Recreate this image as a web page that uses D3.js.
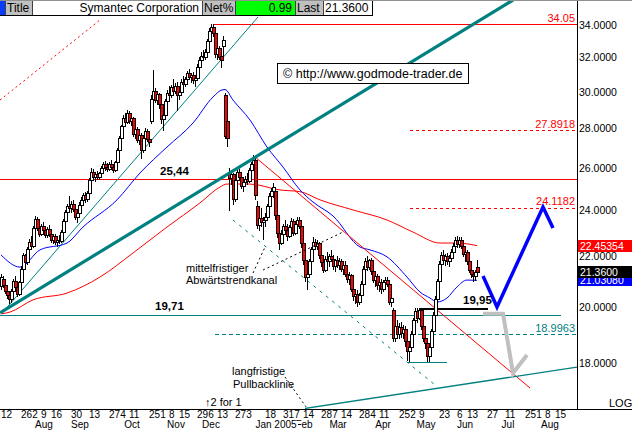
<!DOCTYPE html>
<html><head><meta charset="utf-8">
<script src="https://cdnjs.cloudflare.com/ajax/libs/d3/7.8.5/d3.min.js"></script>
<style>
html,body{margin:0;padding:0;background:#fff;overflow:hidden}
svg{display:block}
text{font-family:"Liberation Sans",Arial,Helvetica,sans-serif}
</style></head><body>
<svg id="chart" width="632" height="431"></svg>
<script>
// ---- daily OHLC (trading-day index 0 = 12 Jul 2004) ----
const open=[20.80,21.10,20.85,20.60,20.45,20.30,20.60,21.00,20.75,20.50,
20.95,21.50,22.05,21.75,22.30,22.60,22.45,23.20,23.60,23.20,
22.95,23.30,23.10,22.90,23.15,22.95,22.70,22.85,22.60,22.70,
22.65,23.05,23.50,23.90,24.20,24.10,24.30,24.05,23.70,23.85,
24.25,24.45,24.70,24.50,24.80,25.40,25.80,25.55,25.70,25.55,
25.75,26.00,26.20,26.05,25.95,26.20,26.05,25.90,26.30,26.90,
27.50,28.10,28.55,28.35,28.80,28.40,28.55,27.70,27.95,27.40,
27.65,26.90,27.50,27.85,27.45,28.40,29.60,30.05,29.55,29.85,
29.30,28.50,28.70,29.50,29.95,29.80,30.25,30.05,30.35,29.80,
30.00,30.55,30.45,30.75,31.05,30.85,30.95,30.65,30.80,31.45,
31.85,32.10,32.00,32.35,33.00,33.60,33.90,33.50,32.20,32.60,32.10,32.70,
29.80,28.40,25.80,25.50,25.70,24.50,25.40,25.80,
25.55,25.10,25.30,25.45,25.35,25.90,26.20,26.40,24.20,23.35,
23.65,23.45,23.55,23.70,24.20,24.65,24.90,24.90,23.80,23.00,
22.55,22.95,23.30,23.10,22.85,23.25,23.50,23.00,23.40,23.55,
23.30,22.55,21.85,21.15,21.30,21.80,22.30,22.60,22.45,22.55,
22.05,21.75,21.45,21.90,21.80,22.00,21.90,21.60,21.85,21.65,
21.80,21.50,21.65,21.30,21.10,21.25,20.70,20.40,20.50,20.20,
20.45,20.90,21.50,21.80,21.55,21.85,21.40,21.05,21.20,20.85,
20.95,20.70,20.95,21.05,20.90,20.20,19.90,18.85,19.30,19.00,
19.25,19.05,19.20,18.75,18.40,18.55,19.00,19.50,19.85,19.60,
19.90,19.30,18.85,18.70,18.25,18.55,19.10,19.70,20.30,21.00,
21.70,22.05,21.85,22.00,21.80,21.95,22.20,22.45,22.70,22.50,
22.70,22.45,22.10,22.20,21.80,21.45,21.30,21.20,21.55];
const high=[21.30,21.20,20.95,20.75,20.60,20.70,21.10,21.20,20.90,21.00,
21.60,22.15,22.10,22.40,22.75,22.85,23.30,23.75,23.70,23.45,
23.40,23.45,23.30,23.25,23.35,23.10,22.95,22.95,22.80,22.90,
23.10,23.60,24.00,24.30,24.65,24.40,24.45,24.15,23.95,24.35,
24.60,24.80,24.85,24.90,25.50,26.00,25.95,25.80,25.85,25.80,
26.10,26.30,26.35,26.25,26.30,26.40,26.20,26.35,27.00,27.60,
28.20,28.70,28.80,29.00,28.95,28.70,28.60,28.10,28.05,27.80,
27.75,27.60,28.00,27.95,27.70,29.80,31.25,30.20,30.00,29.95,
29.45,28.90,29.60,30.10,30.30,30.40,30.70,30.50,30.55,30.20,
30.70,30.90,30.85,31.20,31.30,31.10,31.15,30.90,31.60,32.00,
32.30,32.45,32.50,33.10,33.80,34.05,34.05,33.70,32.80,32.70,32.30,33.30,
29.90,28.50,26.00,25.90,25.75,25.60,25.90,25.95,
25.70,25.40,25.60,25.75,26.00,26.30,26.65,26.50,24.40,23.80,
24.10,23.70,23.85,24.30,24.80,25.00,25.25,25.00,23.95,23.20,
23.10,23.40,23.55,23.40,23.35,23.65,23.60,23.45,23.70,23.70,
23.35,22.60,21.95,21.40,21.90,22.40,22.80,22.75,22.70,22.60,
22.20,21.90,22.00,22.20,22.10,22.25,22.05,21.90,22.00,21.95,
21.90,21.75,21.80,21.45,21.35,21.30,20.85,20.60,20.65,20.55,
21.00,21.60,21.95,22.00,21.90,21.95,21.55,21.30,21.30,21.10,
21.10,21.05,21.15,21.15,20.95,20.45,19.95,19.40,19.50,19.40,
19.45,19.35,19.30,18.90,18.70,19.10,19.60,19.95,19.95,19.95,
19.95,19.40,19.10,18.80,18.65,19.20,19.80,20.40,21.10,21.80,
22.20,22.25,22.10,22.15,22.05,22.30,22.55,22.80,22.85,22.80,
22.80,22.60,22.30,22.25,21.90,21.60,21.45,21.45,21.85];
const low=[20.70,20.75,20.55,20.35,20.15,20.20,20.50,20.65,20.40,20.45,
20.90,21.40,21.65,21.70,22.10,22.30,22.40,23.10,23.10,22.85,
22.90,23.00,22.80,22.80,22.85,22.60,22.55,22.50,22.45,22.55,
22.60,23.00,23.40,23.80,24.00,23.90,23.95,23.60,23.45,23.80,
24.10,24.30,24.35,24.40,24.75,25.30,25.40,25.35,25.45,25.45,
25.65,25.85,25.90,25.85,25.90,25.95,25.80,25.85,26.25,26.80,
27.40,28.00,28.20,28.30,28.30,28.20,27.60,27.50,27.30,27.20,
26.50,26.80,27.40,27.35,27.10,28.30,29.40,29.40,29.30,29.10,
28.30,27.90,28.60,29.40,29.60,29.70,29.90,29.90,29.00,29.60,
29.90,30.30,30.30,30.60,30.70,30.55,30.50,30.30,30.75,31.30,
31.70,31.85,31.90,32.30,32.90,33.40,33.30,32.00,31.90,31.90,31.40,32.10,
27.50,27.10,24.00,25.20,24.30,24.40,25.30,25.40,
25.00,24.90,25.10,25.20,25.30,25.70,26.00,24.50,23.20,23.10,
23.30,22.75,23.30,23.60,24.10,24.40,24.60,23.60,22.80,22.30,
22.50,22.85,23.00,22.70,22.80,23.15,22.90,22.95,23.20,23.20,
22.40,21.70,21.00,20.70,21.20,21.70,22.10,22.30,22.30,21.95,
21.60,21.35,21.40,21.70,21.60,21.80,21.50,21.40,21.55,21.50,
21.40,21.30,21.20,20.95,20.90,20.60,20.25,20.15,20.05,20.10,
20.40,20.85,21.40,21.45,21.50,21.30,20.95,20.80,20.70,20.60,
20.55,20.60,20.75,20.80,20.10,20.05,18.75,18.75,18.90,18.85,
18.90,18.85,18.60,18.10,18.05,18.45,18.95,19.30,19.45,19.55,
19.20,18.75,18.50,18.05,18.05,18.50,19.00,19.60,20.20,20.90,
21.60,21.75,21.65,21.70,21.60,21.85,22.10,22.35,22.40,22.40,
22.35,22.00,21.80,21.70,21.35,21.15,21.00,21.05,21.30];
const close=[21.15,20.85,20.60,20.45,20.30,20.60,21.00,20.75,20.50,20.95,
21.50,22.05,21.75,22.30,22.60,22.45,23.20,23.60,23.20,22.95,
23.30,23.10,22.90,23.15,22.95,22.70,22.85,22.60,22.70,22.65,
23.05,23.50,23.90,24.20,24.10,24.30,24.05,23.70,23.85,24.25,
24.45,24.70,24.50,24.80,25.40,25.80,25.55,25.70,25.55,25.75,
26.00,26.20,26.05,25.95,26.20,26.05,25.90,26.30,26.90,27.50,
28.10,28.55,28.35,28.80,28.40,28.55,27.70,27.95,27.40,27.65,
26.90,27.50,27.85,27.45,27.30,29.60,30.05,29.55,29.85,29.30,
28.50,28.70,29.50,29.95,29.80,30.25,30.05,30.35,29.80,30.00,
30.55,30.45,30.75,31.05,30.85,30.95,30.65,30.80,31.45,31.85,
32.10,32.00,32.35,33.00,33.60,33.90,33.50,32.20,32.60,32.00,31.85,33.05,
27.60,27.50,25.50,25.70,24.50,25.40,25.80,25.55,
25.10,25.30,25.45,25.35,25.90,26.20,26.40,24.70,23.35,23.65,
23.45,23.55,23.70,24.20,24.65,24.90,25.05,23.80,23.00,22.55,
22.95,23.30,23.10,22.85,23.25,23.50,23.00,23.40,23.55,23.30,
22.55,21.85,21.15,21.30,21.80,22.30,22.60,22.45,22.55,22.05,
21.75,21.45,21.90,21.80,22.00,21.90,21.60,21.85,21.65,21.80,
21.50,21.65,21.30,21.10,21.25,20.70,20.40,20.50,20.20,20.45,
20.90,21.50,21.80,21.55,21.85,21.40,21.05,21.20,20.85,20.95,
20.70,20.95,21.05,20.90,20.20,20.35,18.85,19.30,19.00,19.25,
19.05,19.20,18.75,18.40,18.55,19.00,19.50,19.85,19.60,19.90,
19.30,18.85,18.70,18.25,18.55,19.10,19.70,20.30,21.00,21.70,
22.05,21.85,22.00,21.80,21.95,22.20,22.45,22.70,22.50,22.70,
22.45,22.10,22.20,21.80,21.45,21.30,21.20,21.35,21.36];

// moving averages: [day index, price]
const blueMA=[[0,22.06],[9.5,21.56],[19.5,22.27],[33,22.56],[41,23.25],[58,24.47],[69.5,25.74],[83,27.03],[96,28.28],[106,29.70],[110.5,30.10],[112,30.12],[116,29.53],[124.5,28.44],[133,27.03],[141,26.03],[149.5,24.93],[156,24.37],[166,23.74],[179.5,22.39],[184.5,22.27],[193,21.98],[203,21.16],[209.5,20.57],[214.5,20.34],[218,20.19],[223,20.34],[228,20.77],[233,21.04],[238,21.03]];
const redMA=[[0,19.74],[4.5,19.81],[16,20.27],[33,20.53],[49.5,21.16],[66,22.14],[83,23.25],[99.5,24.33],[109.5,25.07],[113,25.21],[124.5,25.21],[139.5,24.93],[149.5,24.85],[159.5,24.47],[176,24.01],[193,23.56],[206,23.03],[219.5,22.56],[228,22.56],[238,22.45]];

// trend lines: [day index, price]
const thickTrend=[[-0.5,19.78],[256,35.65]];
const thinTrend=[[1,19.81],[128.5,34.53]];
const upperChannel=[[-0.5,29.53],[49.5,34.34]];
const downTrend=[[127,26.53],[264.5,17.17]];
const lowerChannel=[[116,23.56],[217,17.27]];
const pullbackLine=[[152,16.52],[288,17.86]];
const blueProjection=[[241,21.20],[248,20.0],[271,24.14],[276,23.21]];
const greyProjection=[[241,19.75],[251,19.75],[256,17.66],[263,18.27]];

// horizontal levels
const levelPrices=[34.05,25.44,19.71,18.9963,27.8918,24.1182,19.95,18.03];
const levelFrom=[106,-0.5,-0.5,107,204.5,204.5,209.5,203.5];
const levelTo=[288,288,280,288,288,288,243.5,223];
const levelLabels=["34.05","","","18.9963","27.8918","24.1182","",""];

// axis ticks
const yTicks=[18,20,22,24,26,28,30,32,34];
const xTickIdx=[0,10,15,20,25,35,44,54,59,64,74,79,84,89,98,103,108,117,122,132,141,146,151,160,165,170,179,184,189,199,204,209,219,228,233,243,252,262,267,272,277];
const xTickLab=["12","26","2","9","16","30","13","27","4","11","25","1","8","15","29","6","13","27","3","18","31","7","14","28","7","14","28","4","11","25","2","9","23","6","13","27","11","25","1","8","15"];
const monthLab=["Aug","Sep","Oct","Nov","Dec","Feb","Jan 2005","Mar","Apr","May","Jun","Jul","Aug"];
const monthIdx=[21.5,39.5,65.5,87.5,105,151.5,137.5,168.5,191,212.5,232,253.5,274.5];

// last values
const lastMA200=22.45354, lastPrice=21.36, lastMA50=21.03080;

// ---------------------------------------------------------
const svg=d3.select("#chart");
const RED="#ff0000",TEAL="#008080",BLUE="#0000ff";
const x=d3.scaleLinear().domain([0,288]).range([1,577]);
const y=d3.scaleLog().domain([16.504,34.53]).range([409,17]);

svg.append("defs").append("clipPath").attr("id","plotClip")
  .append("rect").attr("x",0).attr("y",17).attr("width",577).attr("height",392);

const line=d3.line().x(d=>x(d[0])).y(d=>y(d[1]));
const smooth=d3.line().x(d=>x(d[0])).y(d=>y(d[1])).curve(d3.curveMonotoneX);
const P=svg.append("g").attr("clip-path","url(#plotClip)");

function path(g,data,gen,color,w,dash){
  const p=g.append("path").attr("d",gen(data)).attr("fill","none").style("stroke",color).attr("stroke-width",w);
  if(dash) p.attr("stroke-dasharray",dash);
  return p;
}

// horizontal levels: solid ones as filled 1px bars, dashed as lines
const levelStyle=[
  {c:RED,w:1,d:null},{c:RED,w:1,d:null},{c:TEAL,w:1,d:null},{c:TEAL,w:1,d:"4,3"},
  {c:RED,w:1,d:"3,3"},{c:RED,w:1,d:"3,3"},{c:"#000000",w:2,d:null},{c:TEAL,w:1,d:null}];
levelPrices.forEach((p,i)=>{
  const yy=Math.round(y(p));
  const s=levelStyle[i];
  if(s.d){
    P.append("line").attr("x1",x(levelFrom[i])).attr("x2",x(levelTo[i])).attr("y1",yy+0.5).attr("y2",yy+0.5)
      .style("stroke",s.c).attr("stroke-width",1).attr("stroke-dasharray",s.d);
  } else {
    P.append("rect").attr("x",x(levelFrom[i])).attr("width",x(levelTo[i])-x(levelFrom[i]))
      .attr("y",yy).attr("height",s.w).style("fill",s.c).attr("shape-rendering","crispEdges");
  }
});

// trend lines and MAs (beneath candles)
path(P,upperChannel,line,RED,1,"2,3");
path(P,thinTrend,line,TEAL,1);
path(P,redMA,smooth,RED,1);
path(P,blueMA,smooth,BLUE,1);
path(P,downTrend,line,RED,1);
path(P,lowerChannel,line,TEAL,1,"3,5");
path(P,pullbackLine,line,TEAL,1.3);
path(svg,thickTrend,line,TEAL,3.2);

// candles
const n=Math.min(open.length,high.length,low.length,close.length);
const C=P.append("g");
for(let i=0;i<n;i++){
  const k=Math.round(x(i));
  C.append("line").attr("x1",k+0.5).attr("x2",k+0.5)
    .attr("y1",Math.round(y(high[i]))).attr("y2",Math.round(y(low[i]))+1)
    .style("stroke","#000").attr("stroke-width",1);
  const top=Math.round(y(Math.max(open[i],close[i])))+0.5;
  const bot=Math.round(y(Math.min(open[i],close[i])))+0.5;
  C.append("rect").attr("x",k-0.5).attr("y",top).attr("width",3).attr("height",Math.max(1,bot-top))
    .style("fill",close[i]<open[i]?RED:"#fff").style("stroke","#000").attr("stroke-width",1);
}

// projections
path(svg,greyProjection,line,"#c0c0c0",4).attr("stroke-linejoin","miter");
path(svg,blueProjection,line,BLUE,3.5).attr("stroke-linejoin","miter");

// pointer lines for annotations
const pointer1=[[126,21.32],[132,22.39]];
const pointer2=[[131,21.44],[171,23.03]];
const pointer3=[[142,17.53],[152.5,16.57]];
[pointer1,pointer2,pointer3].forEach(p=>path(svg,p,line,"#000",1,"2,3"));

// level labels
levelPrices.forEach((p,i)=>{
  if(!levelLabels[i]) return;
  svg.append("text").attr("x",575).attr("y",y(p)-2.5).attr("text-anchor","end")
    .attr("font-size",11).style("fill",levelStyle[i].c).text(levelLabels[i]);
});

// bold value annotations
const bold=[["25,44",79.5,25.44],["19,71",77,19.71],["19,95",231,19.95]];
bold.forEach(b=>svg.append("text").attr("x",x(b[1])).attr("y",y(b[2])-4.5)
  .attr("font-size",11.5).attr("font-weight","bold").style("fill","#000").text(b[0]));

// text notes
const notes=[["mittelfristiger",92.5,21.36],["Abwärtstrendkanal",92.5,20.89],
  ["langfristige",115.5,17.60],["Pullbacklinie",116,17.17],["\u21912 for 1",102,16.60]];
notes.forEach(t=>svg.append("text").attr("x",x(t[1])).attr("y",y(t[2]))
  .attr("font-size",11).style("fill","#000").text(t[0]));

// website box
const wt=svg.append("text").attr("x",x(141)).attr("y",y(30.78)).attr("font-size",12.5).style("fill","#000")
  .text("\u00a9 http://www.godmode-trader.de");
const bb=wt.node().getBBox();
svg.append("rect").attr("x",Math.round(bb.x-6)+0.5).attr("y",Math.round(y(30.78)-15)+0.5)
  .attr("width",Math.round(bb.width+12)).attr("height",20).style("fill","#fff").style("stroke","#000");
wt.raise();

// axes frame
svg.append("line").attr("x1",577.5).attr("x2",577.5).attr("y1",0).attr("y2",409).style("stroke","#000");
svg.append("line").attr("x1",0).attr("x2",632).attr("y1",409.5).attr("y2",409.5).style("stroke","#000");

// right axis
const ax=svg.append("g").attr("transform","translate(577,0)")
  .call(d3.axisRight(y).tickValues(yTicks).tickFormat(d=>d.toFixed(4)).tickSize(0).tickPadding(2));
ax.select(".domain").remove();
ax.selectAll("text").attr("font-size",10.5).attr("font-family","'Liberation Sans',Arial,sans-serif").attr("fill","#000");

// value boxes on the right axis
[[lastMA50,BLUE,lastMA50.toFixed(5)],[lastMA200,RED,lastMA200.toFixed(5)],[lastPrice,"#000000",lastPrice.toFixed(4)]].forEach(v=>{
  const yy=Math.round(y(v[0]));
  svg.append("rect").attr("x",578).attr("y",yy-6).attr("width",54).attr("height",12).style("fill",v[1]);
  svg.append("text").attr("x",580).attr("y",yy+4).attr("font-size",10.5).style("fill","#fff").text(v[2]);
});
svg.append("text").attr("x",609).attr("y",407).attr("font-size",11).style("fill","#000").text("LOG");

// bottom axis labels
let lastEnd=-Infinity;
xTickIdx.forEach((ti,i)=>{
  let px=x(ti); if(px<lastEnd) px=lastEnd;
  const t=svg.append("text").attr("x",px).attr("y",418).attr("font-size",10).style("fill","#000").text(xTickLab[i]);
  lastEnd=px+t.node().getComputedTextLength();
});
monthLab.forEach((m,i)=>{
  const t=svg.append("text").attr("x",x(monthIdx[i])).attr("y",428).attr("text-anchor","middle")
    .attr("font-size",10).style("fill","#000").text(m);
  const b=t.node().getBBox();
  svg.insert("rect",()=>t.node()).attr("x",b.x-1).attr("y",b.y+2).attr("width",b.width+2).attr("height",b.height-2).style("fill","#fff");
});

// header bar
const H=svg.append("g");
const cellX=[0,5,32,202,235,295,323], cellW=[5,27,170,33,60,28,49];
const cellFill=["#0a3cff","#c0c0c0","#ffffff","#c0c0c0","#00ff00","#c0c0c0","#ffffff"];
const cellText=["","Title","Symantec Corporation","Net%","0.99","Last","21.3600"];
const cellAnchor=["start","start","end","start","end","start","start"];
cellX.forEach((cx,i)=>{
  H.append("rect").attr("x",cx).attr("y",0).attr("width",cellW[i]).attr("height",15).style("fill",cellFill[i]);
  if(cellText[i]) H.append("text").attr("x",cellAnchor[i]==="end"?cx+cellW[i]-3:cx+2).attr("y",12)
    .attr("text-anchor",cellAnchor[i]).attr("font-size",12).style("fill","#000").text(cellText[i]);
  if(i>0) H.append("line").attr("x1",cx+0.5).attr("x2",cx+0.5).attr("y1",0).attr("y2",15).style("stroke","#404040");
});
H.append("line").attr("x1",372.5).attr("x2",372.5).attr("y1",0).attr("y2",16).style("stroke","#000");
H.append("line").attr("x1",0).attr("x2",373).attr("y1",15.5).attr("y2",15.5).style("stroke","#000");
H.append("rect").attr("x",0).attr("y",0).attr("width",632).attr("height",1).style("fill","#909090");
</script>
</body></html>
